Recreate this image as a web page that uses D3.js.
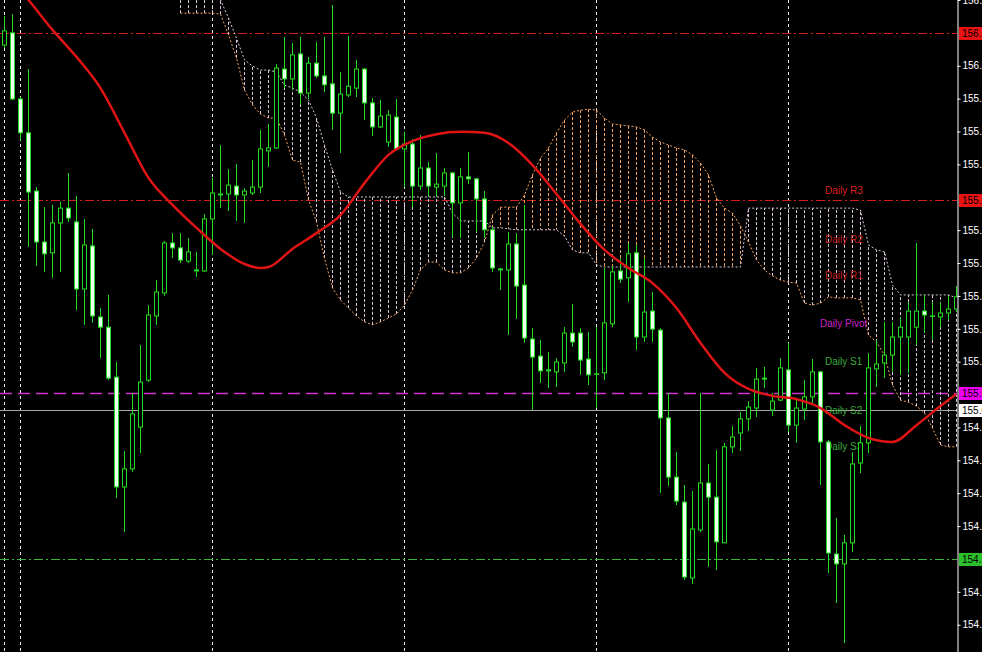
<!DOCTYPE html>
<html>
<head>
<meta charset="utf-8">
<script src="https://cdn.jsdelivr.net/npm/d3@7"></script>
<style>
html, body { margin: 0; padding: 0; background: #000; overflow: hidden; }
svg { display: block; }
text { font-family: "Liberation Sans", Arial, sans-serif; }
</style>
</head>
<body>
<svg id="chart"></svg>
<script>
// H1 candles, one per bar
var openP = [156.123,156.160,155.959,155.856,155.679,155.524,155.491,155.582,155.627,155.585,
	155.381,155.512,155.296,155.265,155.113,154.779,154.834,154.961,155.104,155.299,
	155.369,155.521,155.506,155.466,155.439,155.436,155.594,155.670,155.670,155.694,
	155.667,155.673,155.691,155.801,155.810,156.050,156.020,156.096,155.977,156.068,
	156.029,156.005,155.916,155.971,155.992,156.050,155.947,155.874,155.828,155.904,
	155.807,155.822,155.694,155.749,155.691,155.694,155.734,155.643,155.722,155.716,
	155.655,155.561,155.442,155.439,155.518,155.393,155.229,155.177,155.135,155.129,
	155.156,155.247,155.247,155.168,155.123,155.126,155.275,155.436,155.415,155.491,
	155.235,155.314,155.256,154.989,154.809,154.733,154.502,154.648,154.791,154.748,
	154.609,154.901,154.943,154.986,155.019,155.110,155.013,155.043,155.135,154.967,
	155.016,155.053,155.129,154.916,154.575,154.545,154.609,154.852,154.913,155.138,
	155.156,155.180,155.235,155.235,155.265,155.314,155.299,155.296,155.308,155.320];
var highP = [156.211,156.217,155.965,156.050,155.691,155.630,155.637,155.646,155.734,155.664,
	155.594,155.564,155.323,155.363,155.159,154.888,155.065,155.211,155.332,155.408,
	155.527,155.551,155.551,155.536,155.494,155.609,155.719,155.819,155.746,155.761,
	155.688,155.773,155.865,155.883,156.065,156.148,156.129,156.148,156.087,156.132,
	156.148,156.245,156.041,156.151,156.078,156.053,155.962,155.956,155.925,155.959,
	155.859,155.837,155.849,155.767,155.795,155.749,155.737,155.749,155.798,155.719,
	155.679,155.570,155.445,155.554,155.551,155.637,155.262,155.226,155.189,155.171,
	155.265,155.335,155.262,155.250,155.265,155.445,155.451,155.475,155.521,155.515,
	155.475,155.372,155.262,155.065,154.885,154.785,154.767,155.065,154.849,154.891,
	154.913,154.964,155.007,155.040,155.141,155.144,155.065,155.171,155.217,155.050,
	155.104,155.168,155.132,154.922,154.685,154.633,154.885,154.964,155.186,155.226,
	155.281,155.281,155.296,155.342,155.521,155.363,155.342,155.342,155.360,155.390];
var lowP = [156.114,155.956,155.834,155.509,155.451,155.433,155.415,155.433,155.585,155.317,
	155.272,155.278,155.171,155.104,154.745,154.642,154.825,154.882,155.098,155.272,
	155.360,155.475,155.460,155.460,155.418,155.433,155.484,155.627,155.618,155.588,
	155.582,155.667,155.673,155.752,155.807,155.992,155.986,155.941,155.959,156.023,
	155.980,155.865,155.795,155.965,155.965,155.895,155.846,155.871,155.813,155.805,
	155.691,155.630,155.682,155.661,155.661,155.664,155.539,155.536,155.700,155.554,
	155.536,155.433,155.378,155.241,155.290,155.217,155.013,155.095,155.080,155.083,
	155.129,155.205,155.120,155.089,155.019,155.104,155.265,155.399,155.342,155.196,
	155.220,155.220,154.761,154.782,154.724,154.496,154.484,154.642,154.536,154.526,
	154.609,154.882,154.888,154.949,154.992,155.080,154.995,155.040,154.946,154.913,
	154.983,155.034,154.785,154.517,154.426,154.304,154.581,154.821,154.882,155.083,
	155.110,155.129,155.120,155.126,155.211,155.247,155.226,155.265,155.287,155.311];
var closeP = [156.166,155.959,155.856,155.676,155.524,155.488,155.582,155.627,155.597,155.381,
	155.515,155.299,155.265,155.110,154.779,154.834,155.001,155.098,155.302,155.372,
	155.521,155.506,155.469,155.494,155.436,155.594,155.673,155.667,155.697,155.667,
	155.679,155.691,155.807,155.810,156.053,156.020,156.093,155.977,156.068,156.029,
	156.002,155.916,155.974,155.998,156.050,155.947,155.874,155.907,155.910,155.807,
	155.822,155.694,155.749,155.694,155.700,155.734,155.643,155.722,155.716,155.655,
	155.561,155.445,155.439,155.518,155.390,155.232,155.174,155.132,155.132,155.159,
	155.247,155.220,155.165,155.120,155.123,155.278,155.433,155.411,155.488,155.235,
	155.311,155.259,154.989,154.809,154.736,154.505,154.651,154.791,154.748,154.612,
	154.901,154.931,154.986,155.022,155.107,155.107,155.040,155.141,154.967,155.019,
	155.053,155.129,154.916,154.578,154.545,154.609,154.849,154.913,155.141,155.153,
	155.180,155.235,155.265,155.314,155.314,155.302,155.299,155.308,155.320,155.357];

// red moving average, read at every third bar
var maBars = [0,3,6,9,12,15,18,21,24,27,30,32,33,36,39,42,45,48,51,54,57,60,63,66,69,72,75,78,
	81,84,87,90,93,96,99,102,105,108,111,114,117,119];
var maVals = [156.345,156.260,156.169,156.087,155.992,155.856,155.719,155.637,155.567,155.503,
	155.457,155.445,155.448,155.503,155.551,155.606,155.703,155.789,155.831,155.852,155.859,
	155.856,155.825,155.758,155.670,155.579,155.500,155.445,155.399,155.323,155.217,155.126,
	155.077,155.056,155.046,155.019,154.967,154.928,154.916,154.967,155.025,155.062];

// ichimoku cloud, starting at bar cloudStart
var cloudStart = 22;
var spanA = [156.220,156.220,156.220,156.220,156.220,156.217,156.154,156.084,155.986,155.941,
	155.913,155.901,155.901,155.849,155.773,155.767,155.652,155.585,155.475,155.384,
	155.348,155.323,155.299,155.281,155.272,155.281,155.293,155.305,155.332,155.378,
	155.439,155.463,155.463,155.439,155.430,155.430,155.445,155.475,155.524,155.606,
	155.630,155.630,155.630,155.667,155.728,155.779,155.810,155.856,155.895,155.919,
	155.925,155.928,155.925,155.901,155.883,155.880,155.877,155.874,155.865,155.843,
	155.828,155.819,155.810,155.804,155.789,155.764,155.728,155.658,155.627,155.612,
	155.573,155.524,155.469,155.439,155.421,155.408,155.402,155.399,155.338,155.332,
	155.338,155.357,155.354,155.354,155.354,155.348,155.241,155.220,155.180,155.089,
	155.043,155.037,155.025,155.004,154.958,154.907,154.901,154.901];
var spanB = [156.290,156.290,156.290,156.290,156.290,156.260,156.205,156.144,156.078,156.059,
	156.047,156.047,156.041,156.001,155.992,155.980,155.956,155.901,155.819,155.743,
	155.676,155.661,155.661,155.661,155.661,155.661,155.661,155.661,155.661,155.661,
	155.661,155.661,155.661,155.661,155.612,155.588,155.588,155.588,155.588,155.567,
	155.567,155.564,155.561,155.561,155.561,155.561,155.561,155.561,155.542,155.500,
	155.491,155.491,155.454,155.448,155.448,155.448,155.448,155.448,155.448,155.448,
	155.448,155.448,155.448,155.448,155.448,155.448,155.448,155.448,155.448,155.448,
	155.448,155.627,155.627,155.627,155.627,155.627,155.627,155.627,155.627,155.627,
	155.627,155.627,155.627,155.627,155.627,155.621,155.515,155.500,155.494,155.393,
	155.363,155.363,155.363,155.363,155.363,155.363,155.363,155.354];

// horizontal lines and their price tags
var linePrices = [156.160, 155.652, 155.065, 155.013, 154.561];
var lineTags = ['156.160', '155.652', '155.065', '155.013', '154.561'];

// pivot texts
var pivotNames = ['Daily R3', 'Daily R2', 'Daily R1', 'Daily Pivot', 'Daily S1', 'Daily S2', 'Daily S3'];
var pivotPrices = [155.682, 155.533, 155.421, 155.275, 155.162, 155.013, 154.901];

var tickVals = [156.26,156.06,155.96,155.86,155.76,155.56,155.46,155.36,155.26,155.16,
	154.96,154.86,154.76,154.66,154.46,154.36];
var gridBars = [0, 2, 26, 50, 74, 98];

var W = 982, H = 652, plotW = 957;

var svg = d3.select('#chart').attr('width', W).attr('height', H);
svg.append('rect').attr('width', W).attr('height', H).attr('fill', '#000');

var x = d3.scaleLinear().domain([0, 119]).range([4.5, 956.5]);
var y = d3.scaleLinear().domain([156.26 - H / 328.8, 156.26]).range([H, 0]);

svg.append('clipPath').attr('id', 'plotclip')
	.append('rect').attr('x', 0).attr('y', 0).attr('width', plotW).attr('height', H);

var plot = svg.append('g').attr('clip-path', 'url(#plotclip)');

// grid
plot.append('g').selectAll('line')
	.data(gridBars)
	.enter()
	.append('line')
	.attr('x1', function(d) { return x(d); })
	.attr('x2', function(d) { return x(d); })
	.attr('y1', 0)
	.attr('y2', H)
	.attr('stroke', '#e8e8e8')
	.attr('stroke-dasharray', '3,3');

// level lines
var lineColors = ['#d41c1c', '#d41c1c', '#d030d0', '#a8a8a8', '#3cb43c'];
var lineDash = ['9,3,2,3', '9,3,2,3', '12,6', null, '9,3,2,3'];
plot.append('g').selectAll('line')
	.data(linePrices)
	.enter()
	.append('line')
	.attr('x1', 0)
	.attr('x2', plotW)
	.attr('y1', function(d) { return Math.round(y(d)) + 0.5; })
	.attr('y2', function(d) { return Math.round(y(d)) + 0.5; })
	.attr('stroke', function(d, i) { return lineColors[i]; })
	.attr('stroke-width', function(d, i) { return i == 2 ? 1.5 : 1; })
	.attr('stroke-dasharray', function(d, i) { return lineDash[i]; });

// cloud hatch
var cloud = spanA.map(function(a, i) { return { bar: cloudStart + i, a: a, b: spanB[i] }; });
plot.append('g').selectAll('line')
	.data(cloud)
	.enter()
	.append('line')
	.attr('x1', function(d) { return x(d.bar); })
	.attr('x2', function(d) { return x(d.bar); })
	.attr('y1', function(d) { return y(d.a); })
	.attr('y2', function(d) { return y(d.b); })
	.attr('stroke', function(d) { return d.a >= d.b ? '#f4a460' : '#dcc8dc'; })
	.attr('stroke-dasharray', '3,2');

var spanLine = d3.line().x(function(d) { return x(d.bar); });
plot.append('path')
	.datum(cloud)
	.attr('d', spanLine.y(function(d) { return y(d.a); }))
	.attr('fill', 'none')
	.attr('stroke', '#f4a460')
	.attr('stroke-dasharray', '2,2');
plot.append('path')
	.datum(cloud)
	.attr('d', spanLine.y(function(d) { return y(d.b); }))
	.attr('fill', 'none')
	.attr('stroke', '#dcc8dc')
	.attr('stroke-dasharray', '2,2');

// pivot labels
var pivotColors = ['#dd2222', '#c41e1e', '#c41e1e', '#cc22cc', '#3ca83c', '#3ca83c', '#3ca83c'];
plot.append('g').selectAll('text')
	.data(pivotNames)
	.enter()
	.append('text')
	.attr('x', function(d, i) { return i == 3 ? 820 : 825; })
	.attr('y', function(d, i) { return y(pivotPrices[i]); })
	.attr('dy', '0.35em')
	.attr('font-size', '10px')
	.attr('fill', function(d, i) { return pivotColors[i]; })
	.text(function(d) { return d; });

// candles
var bars = openP.map(function(o, i) {
	return { i: i, o: o, h: highP[i], l: lowP[i], c: closeP[i] };
});
var cg = plot.append('g').selectAll('g')
	.data(bars)
	.enter()
	.append('g');

cg.append('line')
	.attr('x1', function(d) { return x(d.i); })
	.attr('x2', function(d) { return x(d.i); })
	.attr('y1', function(d) { return y(d.h); })
	.attr('y2', function(d) { return y(d.l); })
	.attr('stroke', '#22dd22');

cg.append('rect')
	.attr('x', function(d) { return x(d.i) - 2; })
	.attr('width', 4)
	.attr('y', function(d) { return y(Math.max(d.o, d.c)); })
	.attr('height', function(d) { return Math.max(0.5, Math.abs(y(d.o) - y(d.c))); })
	.attr('fill', function(d) { return d.c < d.o ? '#effff0' : '#000'; })
	.attr('stroke', '#22dd22');

// moving average
var maPts = maBars.map(function(b, i) { return [b, maVals[i]]; });
plot.append('path')
	.datum(maPts)
	.attr('d', d3.line()
		.x(function(d) { return x(d[0]); })
		.y(function(d) { return y(d[1]); })
		.curve(d3.curveMonotoneX))
	.attr('fill', 'none')
	.attr('stroke', '#e01414')
	.attr('stroke-width', 2.5);

// price axis
var axis = svg.append('g')
	.attr('transform', 'translate(' + (plotW + 0.5) + ',0)')
	.call(d3.axisRight(y)
		.tickValues(tickVals)
		.tickSize(3)
		.tickSizeOuter(0)
		.tickFormat(d3.format('.3f')));
axis.select('.domain').attr('stroke', '#fff');
axis.selectAll('.tick line').attr('stroke', '#fff');
axis.selectAll('.tick text')
	.attr('fill', '#fff')
	.attr('x', 5)
	.attr('font-size', '10px')
	.attr('font-family', '"Liberation Sans", Arial, sans-serif');

// price tags of the lines
var tagColors = ['#e81414', '#e81414', '#ee00ee', '#ffffff', '#2cc02c'];
var tags = svg.append('g').selectAll('g')
	.data(linePrices)
	.enter()
	.append('g');
tags.append('rect')
	.attr('x', plotW + 2)
	.attr('y', function(d) { return Math.round(y(d)) - 6; })
	.attr('width', 30)
	.attr('height', 13)
	.attr('fill', function(d, i) { return tagColors[i]; });
tags.append('text')
	.attr('x', plotW + 5)
	.attr('y', function(d) { return Math.round(y(d)) + 0.5; })
	.attr('dy', '0.35em')
	.attr('font-size', '10px')
	.attr('fill', '#000')
	.text(function(d, i) { return lineTags[i]; });
</script>
</body>
</html>
